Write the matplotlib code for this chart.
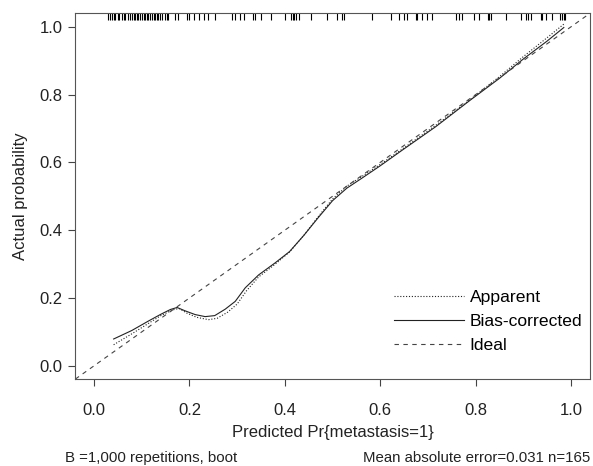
import matplotlib
matplotlib.use("Agg")
import matplotlib.pyplot as plt
import matplotlib.transforms as mtrans

plt.rcParams['font.family'] = ['Liberation Sans', 'DejaVu Sans']

# predicted probabilities (rug at top)
rug_x = [0.030, 0.034, 0.037, 0.041, 0.044, 0.050, 0.053, 0.058, 0.062, 0.065,
         0.072, 0.076, 0.079, 0.083, 0.086, 0.089, 0.093, 0.097, 0.100, 0.104,
         0.107, 0.111, 0.114, 0.118, 0.121, 0.125, 0.128, 0.132, 0.135, 0.139,
         0.142, 0.148, 0.153, 0.156, 0.170, 0.176, 0.195, 0.200, 0.209, 0.219,
         0.230, 0.239, 0.254, 0.289, 0.296, 0.307, 0.314, 0.333, 0.337, 0.349,
         0.370, 0.400, 0.412, 0.417, 0.420, 0.423, 0.429, 0.454, 0.489, 0.510,
         0.520, 0.525, 0.582, 0.622, 0.639, 0.650, 0.657, 0.674, 0.678, 0.688,
         0.699, 0.709, 0.758, 0.765, 0.772, 0.797, 0.807, 0.825, 0.828, 0.832,
         0.863, 0.895, 0.905, 0.909, 0.916, 0.937, 0.940, 0.947, 0.961, 0.978,
         0.982, 0.985, 0.988]

# apparent calibration curve
app_x = [0.041, 0.080, 0.114, 0.140, 0.165, 0.178, 0.195, 0.215, 0.240, 0.258,
         0.280, 0.300, 0.320, 0.345, 0.380, 0.410, 0.440, 0.470, 0.500, 0.530,
         0.560, 0.600, 0.650, 0.720, 0.790, 0.850, 0.900, 0.950, 0.985]
app_y = [0.062, 0.095, 0.125, 0.148, 0.165, 0.169, 0.155, 0.143, 0.136, 0.140,
         0.158, 0.182, 0.222, 0.262, 0.300, 0.336, 0.385, 0.440, 0.492, 0.530,
         0.557, 0.594, 0.643, 0.713, 0.787, 0.853, 0.912, 0.968, 1.008]

# bias-corrected calibration curve
bc_x = [0.041, 0.079, 0.114, 0.140, 0.160, 0.174, 0.191, 0.212, 0.233, 0.253,
        0.275, 0.296, 0.317, 0.345, 0.380, 0.410, 0.440, 0.470, 0.500, 0.530,
        0.560, 0.600, 0.646, 0.716, 0.790, 0.850, 0.900, 0.950, 0.985]
bc_y = [0.079, 0.104, 0.132, 0.152, 0.166, 0.172, 0.162, 0.151, 0.145, 0.148,
        0.167, 0.190, 0.230, 0.268, 0.304, 0.337, 0.385, 0.437, 0.487, 0.524,
        0.552, 0.590, 0.636, 0.705, 0.785, 0.848, 0.905, 0.958, 0.998]

ideal = [-0.1, 1.1]
ticks = [0.0, 0.2, 0.4, 0.6, 0.8, 1.0]
tick_labels = ['0.0', '0.2', '0.4', '0.6', '0.8', '1.0']

fig = plt.figure(figsize=(5.93, 4.66), dpi=100)
ax = fig.add_axes([0.1265, 0.186, 0.8685, 0.7855])

ink = '#222222'
ax.plot(app_x, app_y, color=ink, lw=0.8, dashes=(1, 1.6), label='Apparent')
ax.plot(bc_x, bc_y, color=ink, lw=0.8, label='Bias-corrected')
ax.plot(ideal, ideal, color='#444444', lw=0.8, dashes=(4, 4), label='Ideal')

trans = mtrans.blended_transform_factory(ax.transData, ax.transAxes)
ax.vlines(rug_x, 0.982, 1.0, transform=trans, color='black', lw=0.8)

ax.set_xlim(-0.04, 1.04)
ax.set_ylim(-0.04, 1.04)
ax.set_xticks(ticks)
ax.set_xticklabels(tick_labels)
ax.set_yticks(ticks)
ax.set_yticklabels(tick_labels)
ax.tick_params(axis='x', direction='out', length=5, width=0.8, colors='#444444',
               labelcolor=ink, labelsize=12, pad=12)
ax.tick_params(axis='y', direction='out', length=5, width=0.8, colors='#444444',
               labelcolor=ink, labelsize=12, pad=4)
for sp in ax.spines.values():
    sp.set_color('#555555')
    sp.set_linewidth(0.8)

ax.set_xlabel('Predicted Pr{metastasis=1}', fontsize=12, color=ink, labelpad=5)
ax.set_ylabel('Actual probability', fontsize=12, color=ink, labelpad=8)

ax.legend(loc='lower left', bbox_to_anchor=(0.62, 0.071), frameon=False,
          fontsize=12.6, handlelength=4.0, handletextpad=0.3, labelspacing=0.5,
          borderpad=0, borderaxespad=0)

fig.text(0.11, 0.002, 'B =1,000 repetitions, boot', fontsize=10.8, color=ink,
         ha='left', va='bottom')
fig.text(0.995, 0.002, 'Mean absolute error=0.031 n=165', fontsize=10.8, color=ink,
         ha='right', va='bottom')

fig.savefig('out.png', dpi=100)
